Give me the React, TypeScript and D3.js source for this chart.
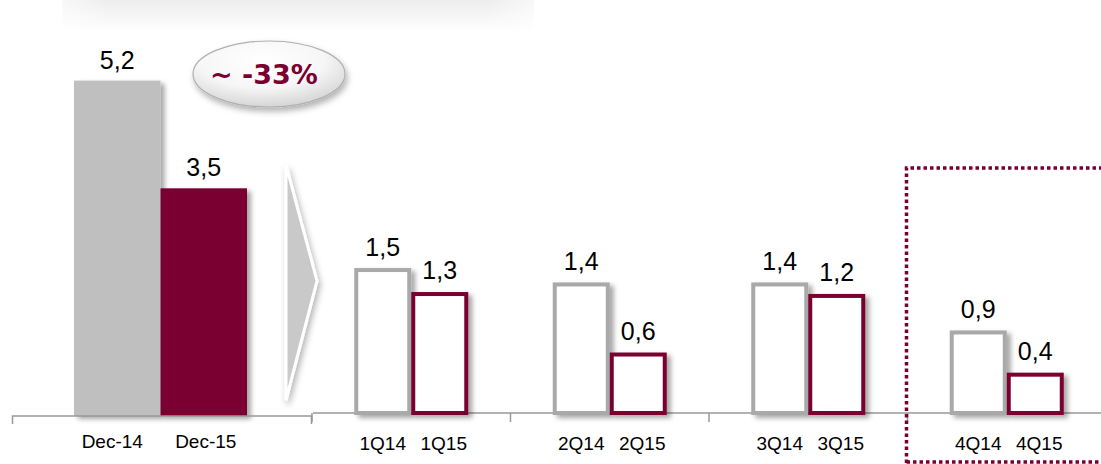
import React from "react";
import * as d3 from "d3";

const leftCategories = ["Dec-14", "Dec-15"];
const leftValues = [5.2, 3.53];
const leftLabels = ["5,2", "3,5"];

const quarterGroups = ["1Q", "2Q", "3Q", "4Q"];
const prevYearLabels = ["1Q14", "2Q14", "3Q14", "4Q14"];
const currYearLabels = ["1Q15", "2Q15", "3Q15", "4Q15"];
const prevYearValues = [1.51, 1.36, 1.36, 0.86];
const currYearValues = [1.26, 0.63, 1.24, 0.42];
const prevValueLabels = ["1,5", "1,4", "1,4", "0,9"];
const currValueLabels = ["1,3", "0,6", "1,2", "0,4"];

const changeLabel = "~ -33%";

const W = 1101;
const H = 464;
const MAROON = "#7a0030";
const GRAY_FILL = "#bfbfbf";
const GRAY_LINE = "#a9a9a9";
const AXIS = "#999999";
const FONT = "'Liberation Sans', Arial, sans-serif";

export default function App() {
  // left chart scales
  const xLeft = d3.scaleBand<string>().domain(leftCategories).range([74, 247]).padding(0);
  const yLeft = d3.scaleLinear().domain([0, 6]).range([416, 416 - 6 * 64.5]);

  // right chart scales
  const xGroup = d3.scaleBand<string>().domain(quarterGroups).range([312, 1106]).padding(0);
  const yRight = d3.scaleLinear().domain([0, 2]).range([413, 413 - 2 * 96]);
  const barW = 57;
  const sw = 4;

  const chevron = "M286,165 L317,281 L286,400 Z";
  const leftLabelShift = [-5, 2];

  return (
    <svg width={W} height={H} style={{ position: "absolute", left: 0, top: 0, background: "#fff" }}>
      <defs>
        <filter id="shadow" x="-20%" y="-20%" width="150%" height="150%">
          <feDropShadow dx="4" dy="3" stdDeviation="2.5" floodColor="#000" floodOpacity="0.35" />
        </filter>
        <filter id="shadowSoft" x="-30%" y="-30%" width="170%" height="170%">
          <feDropShadow dx="2" dy="4" stdDeviation="3" floodColor="#000" floodOpacity="0.3" />
        </filter>
        <linearGradient id="topBand" x1="0" y1="0" x2="0" y2="1">
          <stop offset="0" stopColor="#ededed" />
          <stop offset="1" stopColor="#ffffff" />
        </linearGradient>
        <linearGradient id="topBandH" x1="0" y1="0" x2="1" y2="0">
          <stop offset="0" stopColor="#fff" stopOpacity="0.6" />
          <stop offset="0.1" stopColor="#fff" stopOpacity="0" />
          <stop offset="0.9" stopColor="#fff" stopOpacity="0" />
          <stop offset="1" stopColor="#fff" stopOpacity="0.6" />
        </linearGradient>
        <radialGradient id="ellGrad" cx="0.45" cy="0.3" r="0.75">
          <stop offset="0" stopColor="#ffffff" />
          <stop offset="0.55" stopColor="#f6f6f6" />
          <stop offset="1" stopColor="#d0d0d0" />
        </radialGradient>
      </defs>

      {/* top gray band */}
      <rect x={62} y={0} width={472} height={32} fill="url(#topBand)" />
      <rect x={62} y={0} width={472} height={32} fill="url(#topBandH)" />

      {/* left chart bars */}
      {leftCategories.map((c, i) => (
        <rect
          key={c}
          x={xLeft(c)!}
          y={yLeft(leftValues[i])}
          width={xLeft.bandwidth()}
          height={yLeft(0) - yLeft(leftValues[i])}
          fill={i === 0 ? GRAY_FILL : MAROON}
          filter="url(#shadow)"
        />
      ))}
      {leftCategories.map((c, i) => (
        <text
          key={c + "v"}
          x={xLeft(c)! + xLeft.bandwidth() / 2}
          y={yLeft(leftValues[i]) - 12}
          textAnchor="middle"
          fontFamily={FONT}
          fontSize={25}
          fill="#000"
        >
          {leftLabels[i]}
        </text>
      ))}
      {leftCategories.map((c, i) => (
        <text
          key={c + "c"}
          x={xLeft(c)! + xLeft.bandwidth() / 2 + leftLabelShift[i]}
          y={448}
          textAnchor="middle"
          fontFamily={FONT}
          fontSize={19}
          fill="#000"
        >
          {c}
        </text>
      ))}
      {/* left axis */}
      <path d={`M12.5,424 L12.5,${yLeft(0)} L311.5,${yLeft(0)} L311.5,424`} fill="none" stroke={AXIS} strokeWidth={1.5} />

      {/* chevron arrow */}
      <path d={chevron} fill="#c9c9c9" stroke="#ffffff" strokeWidth={3} strokeLinejoin="miter" filter="url(#shadowSoft)" />

      {/* ellipse callout */}
      <ellipse cx={269} cy={74} rx={76} ry={33} fill="url(#ellGrad)" stroke="#b0b0b0" strokeWidth={1.2} filter="url(#shadowSoft)" />
      <text
        x={264}
        y={84}
        textAnchor="middle"
        fontFamily="'DejaVu Sans', Verdana, sans-serif"
        fontWeight="bold"
        fontSize={27}
        fill={MAROON}
      >
        {changeLabel}
      </text>

      {/* right axis */}
      <line x1={313} x2={W} y1={yRight(0)} y2={yRight(0)} stroke={AXIS} strokeWidth={1.5} />
      {quarterGroups.map((g) => (
        <line key={g + "t"} x1={xGroup(g)!} x2={xGroup(g)!} y1={yRight(0)} y2={yRight(0) + 9} stroke={AXIS} strokeWidth={1.5} />
      ))}

      {/* right bars */}
      {quarterGroups.map((g, i) => {
        const cx = xGroup(g)! + xGroup.bandwidth() / 2;
        const yp = yRight(prevYearValues[i]);
        const yc = yRight(currYearValues[i]);
        return (
          <g key={g}>
            <rect
              x={cx - barW + sw / 2}
              y={yp + sw / 2}
              width={barW - sw}
              height={yRight(0) - yp - sw / 2}
              fill="#fff"
              stroke={GRAY_LINE}
              strokeWidth={sw}
              filter="url(#shadow)"
            />
            <rect
              x={cx + sw / 2}
              y={yc + sw / 2}
              width={barW - sw}
              height={yRight(0) - yc - sw / 2}
              fill="#fff"
              stroke={MAROON}
              strokeWidth={sw}
              filter="url(#shadow)"
            />
            <text x={cx - barW / 2} y={yp - 12} textAnchor="middle" fontFamily={FONT} fontSize={25} fill="#000">
              {prevValueLabels[i]}
            </text>
            <text x={cx + barW / 2} y={yc - 13} textAnchor="middle" fontFamily={FONT} fontSize={25} fill="#000">
              {currValueLabels[i]}
            </text>
            <text x={cx - barW / 2} y={450} textAnchor="middle" fontFamily={FONT} fontSize={19} fill="#000">
              {prevYearLabels[i]}
            </text>
            <text x={cx + barW / 2 + 4} y={450} textAnchor="middle" fontFamily={FONT} fontSize={19} fill="#000">
              {currYearLabels[i]}
            </text>
          </g>
        );
      })}

      {/* dotted highlight box */}
      <path
        d={`M${xGroup("4Q")! - 1},463 L${xGroup("4Q")! - 1},168 L${W + 5},168`}
        fill="none"
        stroke={MAROON}
        strokeWidth={3.5}
        strokeDasharray="3.5,3"
      />
      <line x1={xGroup("4Q")! - 1} x2={W + 5} y1={462} y2={462} stroke={MAROON} strokeWidth={3.5} strokeDasharray="3.5,3" />
    </svg>
  );
}
